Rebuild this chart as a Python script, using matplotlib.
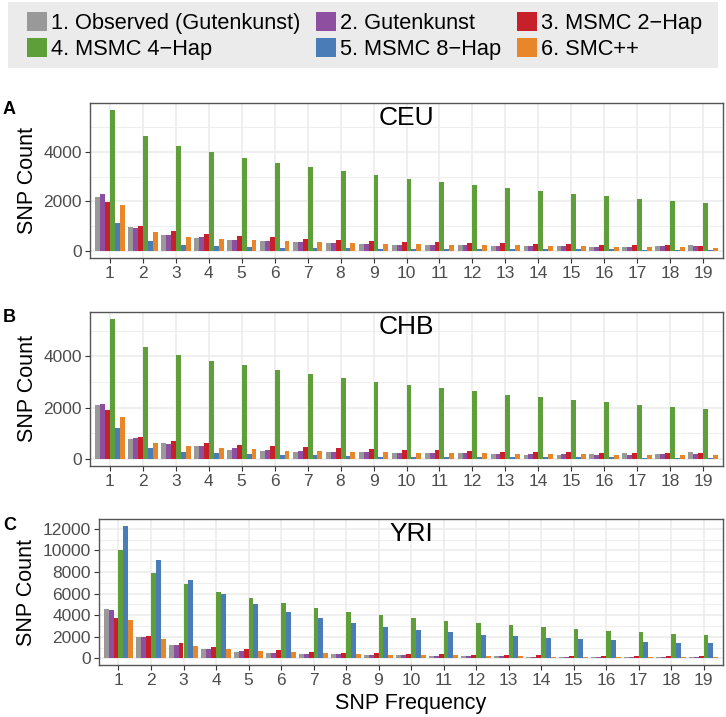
import numpy as np
import matplotlib
matplotlib.use("Agg")
from matplotlib import pyplot as plt
from matplotlib.patches import Patch, Rectangle

plt.rcParams['font.family'] = ['Liberation Sans', 'DejaVu Sans']

freqs = list(range(1, 20))

methods = ['1. Observed (Gutenkunst)', '2. Gutenkunst', '3. MSMC 2\u2212Hap',
           '4. MSMC 4\u2212Hap', '5. MSMC 8\u2212Hap', '6. SMC++']
colors = ['#999999', '#8E4FA0', '#C8202A', '#5E9F3A', '#4A7DB8', '#E8862A']

# CEU
ceu_obs = [2190, 950, 650, 520, 440, 400, 350, 320, 270, 250, 240, 230, 210, 200, 190, 170, 170, 210, 240]
ceu_gut = [2280, 920, 650, 550, 440, 400, 350, 320, 270, 250, 240, 230, 210, 200, 190, 170, 170, 180, 210]
ceu_m2 = [1970, 1000, 790, 680, 600, 550, 490, 450, 400, 370, 350, 320, 310, 290, 280, 250, 240, 230, 210]
ceu_m4 = [5690, 4630, 4250, 3990, 3760, 3570, 3390, 3230, 3050, 2920, 2790, 2650, 2530, 2430, 2310, 2210, 2110, 2030, 1930]
ceu_m8 = [1110, 410, 250, 200, 160, 120, 110, 100, 90, 80, 80, 70, 70, 60, 60, 60, 50, 50, 50]
ceu_smc = [1840, 770, 570, 480, 430, 390, 360, 330, 290, 270, 250, 240, 230, 210, 190, 170, 160, 150, 130]

# CHB
chb_obs = [2100, 790, 640, 490, 350, 310, 270, 260, 260, 240, 230, 220, 190, 170, 170, 190, 230, 190, 280]
chb_gut = [2130, 810, 590, 490, 410, 360, 320, 290, 260, 240, 230, 220, 200, 190, 180, 170, 170, 180, 200]
chb_m2 = [1920, 870, 690, 620, 550, 500, 450, 420, 380, 360, 350, 320, 290, 280, 270, 240, 230, 220, 220]
chb_m4 = [5450, 4360, 4060, 3830, 3640, 3450, 3290, 3140, 3010, 2870, 2760, 2630, 2510, 2410, 2310, 2220, 2120, 2040, 1960]
chb_m8 = [1190, 410, 290, 230, 190, 170, 140, 120, 90, 90, 80, 80, 70, 70, 60, 60, 50, 50, 40]
chb_smc = [1650, 640, 490, 420, 370, 330, 310, 280, 270, 240, 230, 220, 200, 190, 180, 170, 150, 150, 140]

# YRI
yri_obs = [4600, 1990, 1230, 830, 610, 490, 430, 370, 310, 280, 250, 210, 180, 150, 150, 140, 130, 120, 120]
yri_gut = [4480, 1990, 1230, 830, 640, 520, 430, 370, 310, 280, 250, 210, 180, 160, 150, 140, 130, 120, 120]
yri_m2 = [3770, 2050, 1410, 1070, 860, 740, 610, 490, 460, 400, 370, 310, 280, 280, 250, 210, 210, 180, 180]
yri_m4 = [10000, 7910, 6870, 6130, 5550, 5090, 4690, 4330, 4020, 3740, 3470, 3250, 3070, 2880, 2700, 2550, 2420, 2300, 2180]
yri_m8 = [12300, 9080, 7240, 5920, 5000, 4290, 3740, 3280, 2940, 2670, 2420, 2210, 2060, 1900, 1780, 1660, 1560, 1470, 1410]
yri_smc = [3560, 1750, 1170, 860, 670, 580, 490, 400, 340, 310, 280, 210, 180, 170, 150, 140, 120, 110, 100]

panels = [
    ('A', 'CEU', [ceu_obs, ceu_gut, ceu_m2, ceu_m4, ceu_m8, ceu_smc]),
    ('B', 'CHB', [chb_obs, chb_gut, chb_m2, chb_m4, chb_m8, chb_smc]),
    ('C', 'YRI', [yri_obs, yri_gut, yri_m2, yri_m4, yri_m8, yri_smc]),
]

W, H = 726, 717
fig = plt.figure(figsize=(W / 100, H / 100), dpi=100)

# axes boxes in pixels: left, top, right, bottom
boxes = [(90, 103, 723, 258), (90, 312, 723, 466), (99, 519, 723, 665)]

x = np.arange(1, 20)
bw = 0.9 / 6

for (letter, name, series), (l, t, r, b) in zip(panels, boxes):
    ax = fig.add_axes([l / W, 1 - b / H, (r - l) / W, (b - t) / H])
    for i, vals in enumerate(series):
        ax.bar(x + (i - 2.5) * bw, vals, width=bw, color=colors[i], zorder=3)
    ymax = max(max(s) for s in series)
    ax.set_ylim(-0.05 * ymax, 1.05 * ymax)
    ax.set_xlim(0.4, 19.6)
    ax.set_xticks(x)
    ax.set_xticklabels([str(f) for f in freqs])
    if name == 'YRI':
        ax.set_yticks(np.arange(0, 12001, 2000))
        ax.set_yticks(np.arange(1000, 12001, 2000), minor=True)
    else:
        ax.set_yticks([0, 2000, 4000])
        ax.set_yticks([1000, 3000, 5000], minor=True)
    ax.grid(True, which='major', color='#EBEBEB', lw=1.1, zorder=0)
    ax.grid(True, which='minor', axis='y', color='#EBEBEB', lw=0.6, zorder=0)
    ax.tick_params(which='minor', length=0)
    ax.tick_params(which='major', length=3.5, width=0.8, color='#333333',
                   labelsize=12.5, labelcolor='#4D4D4D', pad=2.5)
    for sp in ax.spines.values():
        sp.set_color('#555555')
        sp.set_linewidth(1.0)
    ax.set_ylabel('SNP Count', fontsize=15.5, labelpad=4)
    ax.text(0.5, 0.9, name, transform=ax.transAxes, ha='center', va='center', fontsize=19)
    fig.text(3 / W, 1 - (t + 6) / H, letter, fontsize=13, fontweight='bold', ha='left', va='center')
    if name == 'YRI':
        ax.set_xlabel('SNP Frequency', fontsize=15.5, labelpad=3)

# legend background box
fig.patches.append(Rectangle((8 / W, 1 - 68 / H), 710 / W, 66 / H, transform=fig.transFigure,
                             facecolor='#EBEBEB', edgecolor='none', zorder=0))

# legend filled column-first, so reorder to get rows 1-3 / 4-6
handles = [Patch(facecolor=c, edgecolor='none') for c in colors]
order = [0, 3, 1, 4, 2, 5]
leg = fig.legend([handles[k] for k in order], [methods[k] for k in order],
                 ncol=3, loc='upper left', bbox_to_anchor=(27 / W, 1 - 12 / H),
                 fontsize=15.7, frameon=False,
                 handlelength=0.92, handleheight=0.97, handletextpad=0.18,
                 columnspacing=0.72, labelspacing=0.2, borderpad=0,
                 borderaxespad=0)

fig.savefig('out.png', dpi=100)
